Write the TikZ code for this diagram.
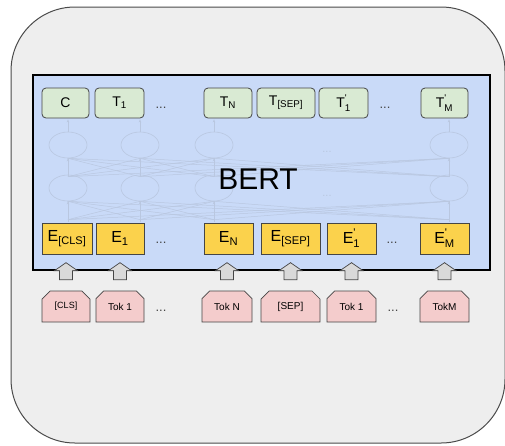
\documentclass[tikz,border=0pt]{standalone}
\usepackage{amsmath}
\usepackage{fontspec}
\setmainfont{Liberation Sans}
\usetikzlibrary{shapes.misc,shapes.geometric,arrows.meta}

\definecolor{panelbg}{HTML}{EEEEEE}
\definecolor{panelline}{HTML}{4A4A4A}
\definecolor{bertblue}{HTML}{C9DAF8}
\definecolor{outgreen}{HTML}{D9EAD3}
\definecolor{embyellow}{HTML}{FBD24C}
\definecolor{tokpink}{HTML}{F4CCCC}
\definecolor{boxline}{HTML}{454545}
\definecolor{arrowgray}{HTML}{D9D9D9}
\definecolor{netline}{HTML}{B9C7E0}

\newcommand{\prm}{\textquotesingle}

\tikzset{
  outbox/.style={draw=boxline, line width=0.8pt, fill=outgreen, rounded corners=4pt,
    minimum height=30pt, inner sep=0pt, font=\fontsize{14}{16}\selectfont},
  embbox/.style={draw=boxline, line width=0.7pt, fill=embyellow,
    minimum height=31pt, inner sep=0pt, font=\fontsize{16}{18}\selectfont},
  tokbox/.style={draw=boxline, line width=0.7pt, fill=tokpink, chamfered rectangle,
    chamfered rectangle corners={north west,north east},
    chamfered rectangle xsep=4pt, chamfered rectangle ysep=4pt,
    minimum height=31pt, inner sep=0pt, font=\fontsize{10}{12}\selectfont},
  dots/.style={text=boxline, font=\fontsize{13}{14}\selectfont, inner sep=0pt},
  faintdots/.style={text=netline, font=\fontsize{11}{12}\selectfont, inner sep=0pt},
  inarrow/.style={draw=boxline, line width=0.7pt, fill=arrowgray, line join=miter},
  unit/.style={draw=netline, line width=0.6pt, ellipse, minimum width=38pt, minimum height=26pt, inner sep=0pt},
  wire/.style={draw=netline, line width=0.5pt},
  lift/.style={wire, -{Stealth[length=3pt,width=2.5pt]}},
}

\begin{document}
\begin{tikzpicture}[x=1pt,y=-1pt]
\useasboundingbox (0,0) rectangle (505,445);

% outer panel
\draw[panelline, fill=panelbg, line width=1pt, rounded corners=64pt]
  (11,7) rectangle (505,443);

% encoder block
\draw[black, fill=bertblue, line width=2.5pt] (33,75) rectangle (490,270);

% faint network inside the encoder
\foreach \n/\x in {a/68,b/140,c/214,d/449}{
  \node[unit] (hi\n) at (\x,145) {};
  \node[unit] (lo\n) at (\x,188) {};
}
\foreach \i in {a,b,c,d}{
  \foreach \j in {a,b,c,d}{
    \draw[wire] ([yshift=-2pt]lo\i.north) -- (hi\j.south);
  }
}
\node[faintdots] (netdots1) at (327,152) {...};
\node[faintdots] (netdots2) at (327,196) {...};

% output row
\node[outbox, minimum width=47pt] (oC)   at (65.5,103) {C};
\node[outbox, minimum width=49pt] (o1)   at (119.5,103) {T\textsubscript{1}};
\node[dots] (odots1) at (161,108) {...};
\node[outbox, minimum width=48pt] (oN)   at (228,103) {T\textsubscript{N}};
\node[outbox, minimum width=58pt] (oSEP) at (286,103) {T\textsubscript{[SEP]}};
\node[outbox, minimum width=49pt] (o1p)  at (343.5,103) {$\text{T}_{\text{1}}^{\text{\prm}}$};
\node[dots] (odots2) at (385,108) {...};
\node[outbox, minimum width=47pt] (oMp)  at (444.5,103) {$\text{T}_{\text{M}}^{\text{\prm}}$};

% embedding row
\node[embbox, minimum width=50pt] (eCLS) at (67,238.5) {E\textsubscript{\fontsize{11}{12}\selectfont[CLS]}};
\node[embbox, minimum width=48pt] (e1)   at (120,238.5) {E\textsubscript{1}};
\node[dots] (edots1) at (161,243) {...};
\node[embbox, minimum width=49pt] (eN)   at (228.5,238.5) {E\textsubscript{N}};
\node[embbox, minimum width=59pt] (eSEP) at (290.5,238.5) {E\textsubscript{[SEP]}};
\node[embbox, minimum width=49pt] (e1p)  at (351.5,238.5) {$\text{E}_{\text{1}}^{\text{\prm}}$};
\node[dots] (edots2) at (392,243) {...};
\node[embbox, minimum width=49pt] (eMp)  at (444.5,238.5) {$\text{E}_{\text{M}}^{\text{\prm}}$};

% token row
\node[tokbox, minimum width=48pt] (tCLS) at (66,306.5) {\fontsize{9}{10}\selectfont[CLS]};
\node[tokbox, minimum width=48pt] (t1)   at (120,306.5) {Tok 1};
\node[dots] (tdots1) at (161,311) {...};
\node[tokbox, minimum width=50pt] (tN)   at (227,306.5) {Tok N};
\node[tokbox, minimum width=59pt] (tSEP) at (290.5,306.5) {[SEP]};
\node[tokbox, minimum width=49pt] (t1p)  at (351.5,306.5) {Tok 1};
\node[dots] (tdots2) at (393,311) {...};
\node[tokbox, minimum width=49pt] (tM)   at (444.5,306.5) {TokM};

% wiring of the faint network
\foreach \n/\o/\e in {a/oC/eCLS,b/o1/e1,c/oN/eN,d/oMp/eMp}{
  \draw[lift] (hi\n.north) -- ([yshift=-1pt]hi\n.north |- \o.south);
  \draw[lift] (lo\n.north) -- (hi\n.south);
  \draw[lift] ([yshift=1pt]lo\n.south |- \e.north) -- (lo\n.south);
}
\foreach \i in {a,b,c,d}{
  \foreach \j in {a,b,c,d}{
    \draw[wire] ([yshift=3pt]lo\i.south |- eCLS.north) -- (lo\j.south);
  }
}

% block arrows from tokens into the encoder
\foreach \t in {tCLS,t1,tN,tSEP,t1p,tM}{
  \draw[inarrow] ([yshift=11pt]\t.north) ++(-6.5,0) -- ++(0,-9) -- ++(-5,0)
    -- ++(11.5,-8) -- ++(11.5,8) -- ++(-5,0) -- ++(0,9) -- cycle;
}

% title
\node[font=\fontsize{30}{34}\selectfont, inner sep=0pt] (bert) at (258,179) {BERT};
\end{tikzpicture}
\end{document}
